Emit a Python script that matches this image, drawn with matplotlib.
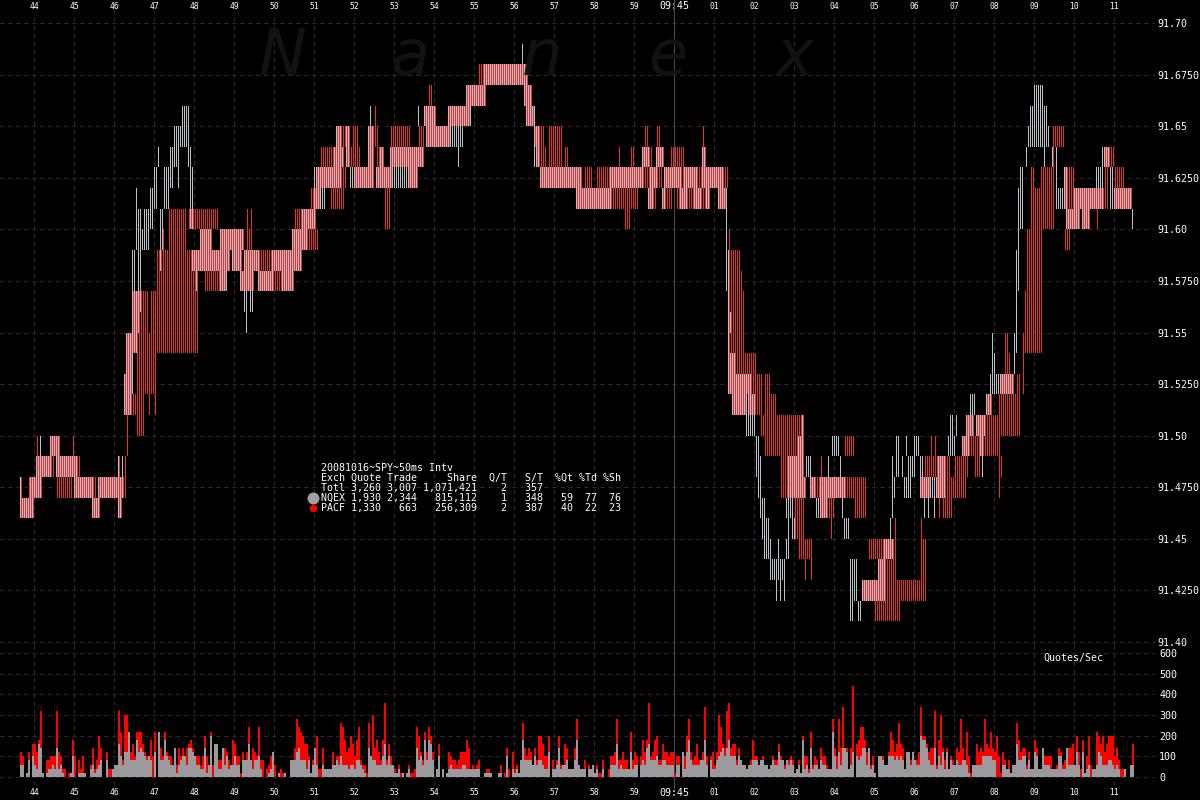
"""SPY quotes by exchange, 50ms intervals, price bands on top and quote rate below."""

import matplotlib

matplotlib.use("Agg")
import matplotlib.pyplot as plt
import numpy as np

# price bands as (first interval, stop interval, low, high), prices in cents above 91.00
BOTH_BANDS = [
    (0, 7, 46, 47), (0, 1, 47, 48), (5, 11, 47, 48), (8, 16, 48, 49), (15, 20, 49, 50), (18, 29, 48, 49),
    (27, 37, 47, 48), (39, 52, 47, 48), (36, 40, 46, 47), (49, 51, 46, 47), (49, 50, 48, 49),
    (52, 56, 51, 53), (53, 56, 52, 55), (53, 59, 54, 55), (58, 60, 55, 57), (71, 72, 59, 60),
    (86, 90, 58, 59), (90, 96, 58, 60), (95, 105, 58, 59), (100, 112, 59, 60), (100, 103, 57, 58),
    (106, 111, 58, 59), (110, 115, 57, 58), (112, 120, 58, 59), (115, 117, 57, 58),
    (119, 127, 57, 58), (126, 141, 58, 59), (131, 137, 57, 58), (136, 144, 59, 60), (141, 148, 60, 61),
    (147, 150, 61, 62), (148, 161, 62, 63), (157, 162, 63, 64), (158, 161, 64, 65), (163, 165, 63, 65),
    (167, 177, 62, 63), (174, 177, 63, 65), (178, 186, 62, 63), (180, 182, 63, 64), (185, 202, 63, 64),
    (194, 199, 62, 63), (202, 208, 65, 66), (203, 215, 64, 65), (214, 225, 65, 66), (223, 233, 66, 67),
    (232, 254, 67, 68), (252, 256, 66, 67), (253, 257, 65, 66), (257, 260, 64, 65), (258, 260, 63, 64),
    (260, 281, 62, 63), (278, 296, 61, 62), (295, 312, 62, 63), (311, 315, 63, 64), (314, 317, 61, 62),
    (315, 319, 62, 63), (318, 322, 63, 64), (321, 323, 61, 62), (322, 331, 62, 63), (330, 334, 61, 62),
    (332, 339, 62, 63), (337, 341, 61, 62), (341, 352, 62, 63), (341, 343, 63, 64), (343, 345, 61, 62),
    (349, 353, 61, 62), (354, 358, 53, 54), (355, 358, 52, 54), (356, 366, 52, 53), (356, 363, 51, 52),
    (364, 368, 51, 52), (389, 392, 49, 50), (384, 392, 48, 49), (384, 390, 47, 48), (390, 393, 47, 48),
    (395, 398, 47, 48), (400, 404, 47, 48), (404, 413, 47, 48), (400, 404, 46, 47), (410, 413, 47, 48),
    (421, 433, 42, 43), (429, 433, 43, 44), (432, 437, 44, 45), (450, 455, 47, 48), (459, 463, 48, 49),
    (458, 463, 47, 48), (471, 475, 49, 50), (473, 477, 50, 51), (478, 483, 50, 51), (480, 482, 49, 50),
    (483, 486, 51, 52), (490, 497, 52, 53), (516, 517, 63, 64), (522, 524, 61, 63), (523, 530, 60, 61),
    (527, 535, 61, 62), (531, 535, 60, 61), (535, 542, 61, 62), (542, 545, 63, 64), (547, 556, 61, 62),
]
GRAY_BANDS = [
    (10, 11, 49, 50), (51, 52, 48, 49), (56, 57, 52, 59), (56, 58, 54, 59), (58, 59, 59, 62), (59, 60, 56, 61),
    (60, 61, 56, 61), (61, 62, 59, 60), (62, 65, 59, 61), (65, 67, 60, 62), (67, 69, 61, 63), (69, 70, 63, 64),
    (70, 72, 60, 61), (70, 71, 58, 60), (72, 75, 61, 63), (75, 77, 62, 64), (77, 80, 63, 65), (79, 80, 62, 63),
    (80, 81, 64, 65), (81, 85, 64, 66), (84, 86, 63, 64), (85, 87, 60, 63), (88, 89, 57, 58), (103, 104, 57, 58),
    (104, 105, 58, 59), (112, 113, 56, 57), (113, 114, 55, 57), (115, 117, 56, 57), (115, 117, 57, 58),
    (147, 148, 62, 63), (150, 153, 61, 62), (165, 167, 62, 63), (175, 176, 65, 66), (186, 194, 62, 63),
    (199, 200, 65, 66), (215, 222, 64, 65), (219, 220, 63, 64), (225, 226, 65, 66), (251, 252, 68, 69),
    (256, 258, 65, 66), (257, 258, 63, 64), (353, 354, 57, 62), (354, 355, 52, 59), (355, 356, 55, 56),
    (359, 364, 51, 52), (363, 368, 50, 51), (368, 370, 48, 50), (369, 371, 47, 49), (370, 373, 46, 47),
    (371, 375, 45, 46), (372, 376, 44, 45), (375, 383, 43, 44), (379, 380, 44, 45), (383, 385, 44, 45),
    (378, 379, 42, 43), (380, 381, 42, 43), (382, 383, 42, 43), (383, 387, 46, 47), (384, 385, 45, 46),
    (386, 388, 45, 46), (391, 392, 50, 51), (393, 396, 48, 49), (398, 404, 46, 47), (404, 405, 48, 49),
    (406, 410, 49, 50), (410, 411, 48, 49), (411, 412, 46, 47), (412, 415, 45, 46), (415, 419, 42, 44),
    (415, 417, 41, 42), (419, 421, 41, 42), (435, 436, 45, 46), (436, 437, 46, 49), (436, 438, 47, 48),
    (438, 440, 48, 50), (441, 442, 48, 49), (442, 446, 47, 48), (443, 444, 49, 50), (444, 448, 48, 49),
    (447, 450, 49, 50), (450, 452, 48, 49), (452, 453, 46, 47), (454, 455, 46, 47), (457, 458, 46, 47),
    (455, 458, 47, 48), (464, 468, 49, 50), (465, 467, 50, 51), (468, 469, 50, 51), (475, 478, 51, 52),
    (481, 482, 48, 50), (485, 490, 52, 53), (486, 487, 53, 55), (487, 488, 53, 54), (497, 498, 53, 55),
    (498, 499, 54, 59), (499, 500, 57, 60), (499, 502, 60, 62), (500, 502, 62, 63), (503, 504, 63, 64),
    (504, 515, 64, 65), (505, 514, 65, 66), (507, 512, 66, 67), (512, 513, 63, 64), (518, 519, 61, 64),
    (518, 524, 61, 62), (538, 541, 62, 63), (541, 542, 62, 64), (545, 547, 61, 63), (556, 557, 60, 61),
]
RED_BANDS = [
    (4, 5, 47, 48), (8, 9, 49, 50), (16, 17, 48, 49), (26, 27, 49, 50), (18, 26, 47, 48), (29, 30, 48, 49),
    (37, 38, 47, 48), (52, 53, 47, 49), (53, 54, 49, 51), (55, 58, 51, 52), (56, 62, 55, 57), (58, 62, 50, 55),
    (62, 64, 52, 57), (64, 65, 51, 55), (65, 68, 52, 57), (67, 68, 51, 52), (68, 89, 54, 59), (74, 83, 59, 61),
    (84, 99, 60, 61), (92, 103, 57, 58), (113, 114, 60, 61), (113, 116, 59, 60), (120, 126, 58, 59),
    (127, 131, 57, 58), (115, 116, 60, 61), (137, 142, 60, 61), (144, 149, 59, 60), (145, 147, 61, 62),
    (150, 157, 63, 64), (155, 162, 61, 62), (161, 163, 62, 63), (161, 165, 64, 65), (165, 170, 63, 64),
    (166, 169, 64, 65), (177, 178, 65, 66), (177, 179, 64, 65), (178, 182, 63, 64), (182, 185, 60, 62),
    (185, 195, 64, 65), (199, 202, 64, 65), (204, 206, 66, 67), (229, 232, 67, 68), (260, 262, 64, 65),
    (260, 263, 63, 64), (264, 271, 63, 65), (272, 274, 63, 64), (282, 286, 62, 63), (288, 295, 62, 63),
    (296, 309, 61, 62), (299, 300, 63, 64), (302, 305, 60, 61), (305, 307, 63, 64), (312, 314, 64, 65),
    (312, 314, 63, 64), (312, 315, 62, 63), (315, 316, 63, 64), (317, 318, 61, 62), (318, 320, 64, 65),
    (319, 321, 62, 63), (323, 326, 61, 62), (325, 332, 63, 64), (328, 331, 61, 62), (331, 332, 62, 63),
    (334, 337, 61, 62), (339, 341, 62, 63), (341, 342, 64, 65), (341, 343, 61, 62), (352, 354, 62, 63),
    (354, 355, 52, 60), (355, 360, 52, 59), (360, 361, 51, 58), (361, 362, 51, 57), (362, 365, 52, 54),
    (359, 368, 53, 54), (366, 371, 52, 53), (372, 375, 52, 53), (368, 371, 51, 52), (372, 378, 51, 52),
    (370, 385, 50, 51), (385, 392, 50, 51), (372, 392, 49, 50), (380, 384, 48, 49), (380, 392, 47, 48),
    (387, 392, 46, 47), (387, 392, 45, 46), (389, 396, 44, 45), (392, 393, 43, 44), (395, 396, 43, 44),
    (400, 401, 48, 49), (398, 400, 47, 48), (404, 407, 46, 47), (405, 406, 45, 46), (412, 417, 49, 50),
    (413, 423, 47, 48), (417, 423, 46, 47), (424, 432, 44, 45), (427, 440, 41, 42), (433, 440, 42, 43),
    (433, 438, 43, 44), (440, 453, 42, 43), (450, 453, 43, 45), (450, 451, 45, 46), (437, 438, 44, 46),
    (452, 465, 48, 49), (455, 456, 49, 50), (457, 458, 49, 50), (459, 460, 46, 47), (461, 466, 46, 47),
    (462, 473, 47, 48), (467, 474, 48, 49), (475, 490, 49, 50), (477, 480, 48, 49), (483, 490, 50, 51),
    (489, 490, 47, 49), (489, 491, 48, 49), (489, 500, 50, 52), (492, 494, 53, 55), (494, 495, 53, 54),
    (498, 500, 52, 53), (501, 502, 52, 55), (502, 503, 54, 57), (503, 511, 54, 60), (505, 510, 60, 62),
    (505, 507, 62, 63), (510, 517, 60, 63), (516, 522, 64, 65), (522, 525, 59, 60), (524, 527, 61, 63),
    (538, 539, 60, 61), (542, 544, 61, 63), (545, 547, 63, 64), (547, 552, 62, 63),
]

# quotes per 50ms interval, total and the gray exchange's share; one count is 20 quotes/sec
TOTAL_COUNTS = [
    6, 5, 0, 1, 6, 0, 8, 8, 6, 9, 16, 1, 0, 4, 4, 5, 5, 5, 16, 6,
    5, 2, 2, 0, 1, 1, 9, 5, 0, 4, 2, 5, 1, 0, 0, 3, 7, 2, 4, 10,
    7, 0, 0, 6, 2, 2, 2, 3, 3, 16, 11, 4, 15, 15, 11, 6, 8, 5, 11, 11,
    11, 8, 6, 5, 5, 9, 5, 11, 0, 11, 7, 5, 11, 6, 5, 5, 3, 7, 3, 7,
    5, 7, 5, 7, 8, 9, 7, 5, 5, 5, 3, 5, 10, 5, 3, 11, 3, 8, 8, 4,
    4, 7, 7, 6, 4, 3, 9, 8, 5, 5, 1, 6, 4, 6, 12, 4, 7, 6, 5, 12,
    4, 4, 0, 2, 3, 5, 6, 3, 0, 1, 2, 1, 1, 0, 0, 4, 4, 7, 14, 12,
    11, 10, 8, 8, 5, 1, 4, 7, 10, 2, 2, 7, 2, 2, 2, 2, 6, 3, 5, 5,
    13, 12, 9, 6, 7, 10, 8, 5, 9, 12, 4, 3, 3, 1, 13, 5, 15, 7, 9, 6,
    4, 9, 18, 4, 8, 5, 3, 2, 1, 3, 1, 1, 0, 1, 3, 1, 1, 2, 12, 10,
    6, 4, 11, 6, 12, 10, 6, 0, 2, 8, 0, 2, 0, 1, 6, 5, 4, 4, 3, 4,
    6, 6, 6, 9, 7, 2, 3, 2, 3, 4, 0, 0, 1, 2, 2, 1, 0, 0, 0, 1,
    3, 0, 1, 7, 2, 0, 6, 2, 3, 1, 4, 13, 7, 5, 7, 6, 3, 7, 4, 10,
    10, 8, 5, 5, 10, 0, 4, 2, 4, 10, 3, 3, 8, 7, 2, 2, 2, 7, 14, 3,
    2, 2, 4, 0, 3, 2, 3, 1, 3, 1, 1, 4, 0, 0, 2, 5, 5, 6, 14, 4,
    4, 6, 4, 4, 2, 11, 4, 6, 5, 0, 5, 9, 6, 9, 18, 5, 6, 9, 10, 4,
    4, 8, 6, 6, 5, 6, 6, 1, 5, 5, 0, 6, 5, 10, 14, 6, 4, 5, 8, 4,
    4, 6, 17, 5, 0, 5, 6, 3, 6, 15, 12, 8, 7, 16, 18, 7, 8, 8, 4, 7,
    4, 3, 3, 2, 3, 4, 9, 5, 5, 3, 4, 5, 3, 3, 2, 3, 5, 4, 4, 8,
    5, 4, 3, 4, 4, 5, 4, 1, 2, 4, 1, 10, 5, 5, 2, 11, 3, 5, 4, 2,
    7, 5, 5, 3, 2, 2, 14, 7, 5, 14, 7, 17, 7, 7, 2, 7, 22, 0, 8, 9,
    12, 12, 9, 6, 7, 3, 5, 1, 0, 5, 5, 5, 3, 3, 6, 11, 9, 6, 8, 13,
    8, 7, 2, 6, 6, 4, 6, 4, 4, 6, 17, 10, 10, 8, 6, 7, 7, 16, 3, 9,
    15, 7, 4, 7, 2, 5, 4, 3, 7, 6, 14, 7, 4, 11, 5, 1, 3, 3, 8, 6,
    7, 6, 14, 8, 7, 11, 7, 6, 10, 5, 1, 6, 4, 2, 4, 1, 3, 3, 13, 9,
    6, 7, 7, 3, 6, 2, 2, 9, 7, 2, 2, 7, 5, 5, 5, 5, 2, 2, 3, 7,
    6, 3, 4, 7, 7, 7, 8, 3, 10, 6, 2, 9, 1, 5, 10, 3, 2, 2, 11, 10,
    8, 10, 6, 8, 10, 10, 10, 5, 7, 4, 2, 2, 2, 0, 0, 3, 8,
]
GRAY_COUNTS = [
    3, 3, 0, 1, 4, 0, 5, 3, 2, 8, 7, 1, 0, 1, 2, 2, 3, 2, 7, 2,
    3, 1, 0, 0, 0, 1, 5, 0, 0, 1, 1, 1, 1, 0, 0, 2, 3, 1, 2, 3,
    4, 0, 0, 4, 0, 0, 2, 3, 3, 8, 5, 3, 6, 6, 11, 4, 4, 4, 9, 6,
    7, 6, 5, 4, 5, 4, 0, 6, 0, 11, 4, 4, 9, 5, 4, 3, 3, 7, 1, 3,
    4, 5, 5, 3, 7, 7, 6, 5, 3, 3, 2, 2, 7, 1, 3, 10, 0, 8, 8, 2,
    2, 7, 3, 5, 2, 3, 3, 5, 3, 3, 0, 4, 4, 4, 8, 4, 2, 4, 4, 5,
    2, 0, 0, 0, 1, 2, 6, 0, 0, 1, 0, 0, 1, 0, 0, 4, 4, 4, 6, 7,
    4, 4, 4, 2, 4, 1, 3, 7, 3, 0, 0, 3, 2, 2, 2, 2, 3, 3, 4, 3,
    5, 3, 3, 3, 2, 3, 3, 2, 4, 4, 3, 2, 1, 0, 7, 5, 4, 4, 3, 3,
    3, 5, 8, 3, 5, 3, 3, 1, 1, 2, 0, 1, 0, 1, 2, 0, 0, 0, 7, 4,
    5, 3, 9, 4, 9, 8, 4, 0, 2, 5, 0, 2, 0, 1, 2, 3, 2, 2, 2, 2,
    2, 3, 3, 2, 2, 2, 2, 2, 2, 2, 0, 0, 1, 1, 1, 1, 0, 0, 0, 1,
    1, 0, 0, 5, 0, 0, 2, 1, 2, 1, 4, 9, 4, 4, 4, 4, 3, 5, 3, 4,
    4, 3, 2, 2, 6, 0, 2, 2, 3, 7, 2, 3, 3, 4, 2, 2, 2, 4, 9, 3,
    2, 2, 2, 0, 2, 2, 3, 1, 2, 0, 0, 2, 0, 0, 0, 3, 3, 3, 8, 2,
    3, 2, 2, 2, 2, 6, 2, 3, 3, 0, 3, 4, 3, 7, 8, 4, 4, 4, 5, 3,
    3, 4, 4, 3, 3, 3, 3, 0, 3, 3, 0, 6, 2, 6, 9, 4, 3, 3, 3, 3,
    4, 4, 9, 3, 0, 4, 2, 2, 4, 5, 6, 7, 5, 7, 9, 5, 5, 5, 3, 5,
    4, 3, 3, 2, 3, 3, 4, 4, 4, 3, 4, 4, 3, 3, 2, 3, 4, 3, 3, 6,
    4, 4, 2, 4, 3, 4, 3, 1, 2, 3, 1, 9, 2, 3, 1, 7, 2, 3, 3, 2,
    4, 3, 3, 2, 2, 2, 11, 5, 2, 6, 3, 7, 7, 6, 2, 3, 6, 0, 5, 4,
    5, 7, 7, 3, 7, 2, 3, 1, 0, 5, 5, 4, 3, 3, 5, 5, 5, 4, 5, 4,
    5, 4, 2, 6, 6, 3, 6, 4, 3, 3, 10, 9, 9, 7, 4, 3, 3, 7, 2, 5,
    3, 6, 2, 6, 2, 4, 3, 3, 4, 3, 3, 4, 4, 3, 1, 0, 3, 3, 3, 3,
    3, 5, 5, 5, 5, 5, 4, 4, 0, 0, 0, 3, 3, 2, 2, 1, 3, 3, 8, 4,
    4, 5, 5, 2, 4, 2, 2, 6, 5, 2, 2, 7, 3, 3, 3, 2, 2, 2, 2, 5,
    5, 2, 2, 7, 3, 3, 3, 3, 6, 3, 0, 6, 1, 2, 3, 0, 2, 2, 3, 6,
    5, 3, 3, 3, 4, 4, 3, 2, 3, 2, 0, 0, 2, 0, 0, 3, 3,
]

PRICE_TICKS = [91.70, 91.675, 91.65, 91.625, 91.60, 91.575, 91.55, 91.525, 91.50, 91.475, 91.45, 91.425, 91.40]
PRICE_LABELS = [
    "91.70", "91.6750", "91.65", "91.6250", "91.60", "91.5750", "91.55",
    "91.5250", "91.50", "91.4750", "91.45", "91.4250", "91.40",
]
RATE_TICKS = [0, 100, 200, 300, 400, 500, 600]
SECOND_LABELS = [
    "44", "45", "46", "47", "48", "49", "50", "51", "52", "53", "54", "55", "56", "57", "58", "59",
    "09:45", "01", "02", "03", "04", "05", "06", "07", "08", "09", "10", "11",
]
TABLE_LINES = [
    "20081016~SPY~50ms Intv",
    "Exch Quote Trade     Share  Q/T   S/T  %Qt %Td %Sh",
    "Totl 3,260 3,007 1,071,421    2   357",
    "NQEX 1,930 2,344   815,112    1   348   59  77  76",
    "PACF 1,330   663   256,309    2   387   40  22  23",
]

GRAY = "#b8c2c6"
RED = "#e03232"
BAR_GRAY = "#9c9a9e"
BAR_RED = "#ff0000"
GRID = "#2b2b2b"
MONO = "DejaVu Sans Mono"
DASH = (0, (4, 4))
PX = 0.72  # one pixel in points at dpi 100


def draw_bands(ax, bands, offset, color):
    x, low, high = [], [], []
    for start, stop, lo, hi in bands:
        for k in range(start, stop):
            x.append(k + offset)
            low.append(91 + lo / 100)
            high.append(91 + hi / 100)
    x, low, high = np.array(x), np.array(low), np.array(high)
    ax.bar(x, high - low, bottom=low, width=0.5, align="edge", color=color, linewidth=0,
           antialiased=False, zorder=3)


def style_axes(ax):
    ax.set_facecolor("black")
    for spine in ax.spines.values():
        spine.set_visible(False)
    ax.grid(True, color=GRID, linestyle=DASH, linewidth=PX)
    ax.set_axisbelow(True)
    ax.yaxis.tick_right()
    ax.tick_params(length=0, colors="white", pad=1.5)
    ax.axvline(327, color="#4c4c4c", linewidth=PX, zorder=1.5, clip_on=False, ymin=-0.02, ymax=1.03)


def second_ticks(ax, pad):
    ticks = [7 + 20 * i for i in range(len(SECOND_LABELS))]
    ax.set_xticks(ticks, SECOND_LABELS, fontfamily=MONO, fontsize=5.8)
    ax.tick_params(axis="x", pad=pad)
    for label, text in zip(ax.get_xticklabels(), SECOND_LABELS):
        if ":" in text:
            label.set_fontsize(7.2)


def main():
    fig = plt.figure(figsize=(12, 8), dpi=100, facecolor="black")
    width = 1155 / 1200
    xlim = (-10, (1155 - 20) / 2)

    # price panel spans y pixels 12..645, volume panel 645..785
    ax = fig.add_axes([0, 1 - 645 / 800, width, 633 / 800])
    ax2 = fig.add_axes([0, 1 - 785 / 800, width, 140 / 800])

    style_axes(ax)
    draw_bands(ax, BOTH_BANDS + GRAY_BANDS, 0, GRAY)
    draw_bands(ax, BOTH_BANDS + RED_BANDS, 0.5, RED)
    ax.set_xlim(xlim)
    ax.set_ylim(91.40 - 3 / 2063, 91.70 + 11 / 2063)
    ax.set_yticks(PRICE_TICKS, PRICE_LABELS, fontfamily=MONO, fontsize=7.2)
    ax.xaxis.tick_top()
    second_ticks(ax, 1)

    style_axes(ax2)
    x = np.arange(len(TOTAL_COUNTS))
    ax2.bar(x, np.array(TOTAL_COUNTS) * 20, width=1, align="edge", color=BAR_RED, linewidth=0,
            antialiased=False, zorder=3)
    ax2.bar(x, np.array(GRAY_COUNTS) * 20, width=1, align="edge", color=BAR_GRAY, linewidth=0,
            antialiased=False, zorder=4)
    ax2.set_xlim(xlim)
    ax2.set_ylim(-8 / 124 * 600, 600 + 8 / 124 * 600)
    ax2.set_yticks(RATE_TICKS, [str(v) for v in RATE_TICKS], fontfamily=MONO, fontsize=7.2)
    ax2.tick_params(axis="y", pad=3)
    second_ticks(ax2, 2)

    # text and markers placed in pixel coordinates
    over = fig.add_axes([0, 0, 1, 1], facecolor="none")
    over.set_xlim(0, 1200)
    over.set_ylim(800, 0)
    over.axis("off")
    for letter, left in zip("Nanex", [258, 390, 522, 648, 776]):
        over.text(left, 75, letter, fontsize=46, style="italic", color="#121212", ha="left", va="baseline",
                  family="DejaVu Sans", zorder=0)
    for i, line in enumerate(TABLE_LINES):
        over.text(321, 468 + 10 * i, line, fontfamily=MONO, fontsize=7.2, color="white", va="center", ha="left")
    over.plot([313], [498], "o", color="#a0a0a0", markersize=8.6, markeredgewidth=0)
    over.plot([313], [508], "o", color="#ff0000", markersize=5.4, markeredgewidth=0)
    over.text(1043, 658, "Quotes/Sec", fontfamily=MONO, fontsize=7.2, color="white", va="center", ha="left")

    fig.savefig("out.png", dpi=100, facecolor="black")


if __name__ == "__main__":
    main()
